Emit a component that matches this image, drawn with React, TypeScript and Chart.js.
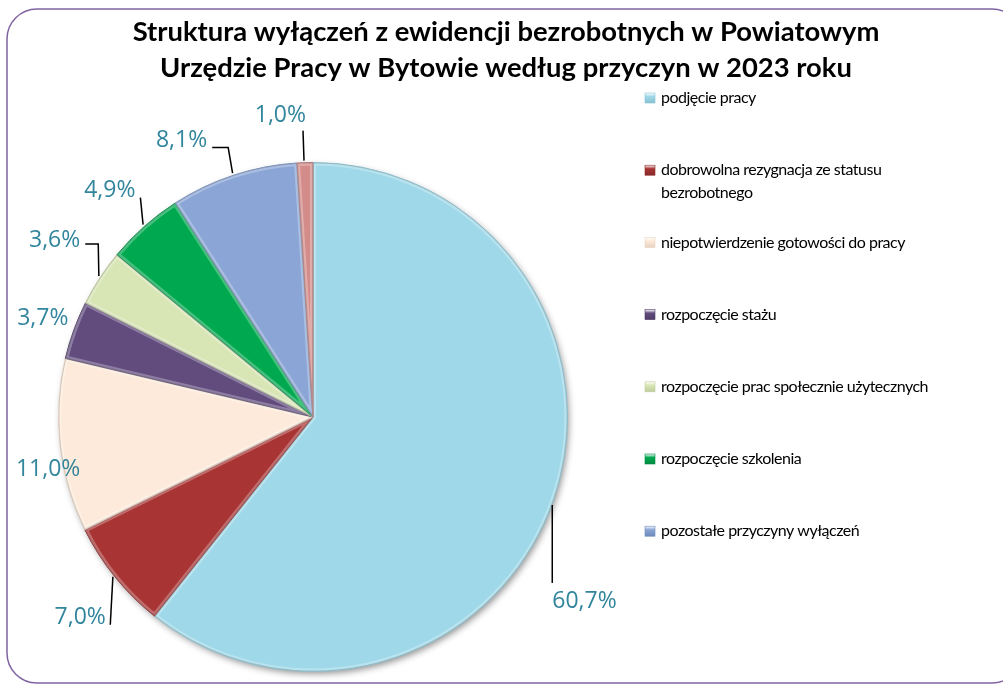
import React, { useEffect, useRef } from 'react';
import { Chart, registerables } from 'chart.js';

Chart.register(...registerables);

const titleLines = [
  'Struktura wyłączeń z ewidencji bezrobotnych w Powiatowym',
  'Urzędzie Pracy w Bytowie według przyczyn w 2023 roku',
];

const categories = [
  'podjęcie pracy',
  'dobrowolna rezygnacja ze statusu bezrobotnego',
  'niepotwierdzenie gotowości do pracy',
  'rozpoczęcie stażu',
  'rozpoczęcie prac społecznie użytecznych',
  'rozpoczęcie szkolenia',
  'pozostałe przyczyny wyłączeń',
  'inne',
];

const values = [60.7, 7.0, 11.0, 3.7, 3.6, 4.9, 8.1, 1.0];

const legendLines = [
  ['podjęcie pracy'],
  ['dobrowolna rezygnacja ze statusu', 'bezrobotnego'],
  ['niepotwierdzenie gotowości do pracy'],
  ['rozpoczęcie stażu'],
  ['rozpoczęcie prac społecznie użytecznych'],
  ['rozpoczęcie szkolenia'],
  ['pozostałe przyczyny wyłączeń'],
];

const colors = ['#9FD9E9', '#A83434', '#FDEADA', '#624C7E', '#D8E5B5', '#00A94F', '#8AA5D6', '#D48C8A'];
const borderColors = ['#86C2D3', '#8A2A2A', '#E8D2C0', '#4F3C68', '#BFCC9C', '#008A40', '#6F8BBD', '#B87472'];

// label placement relative to the slice's outer mid-point: leader path and text anchor
const labelLayout = [
  { path: [[-1, 4], [-1, 82]], text: [-1, 101], align: 'left' },
  { path: [[-2, 0], [-4.6, 48]], text: [-9, 41], align: 'right' },
  { path: [], text: [-12, 24], align: 'center' },
  { path: [], text: [-31, -12], align: 'center' },
  { path: [[-1, -2], [-1.6, -34], [-14.6, -34]], text: [-19.6, -37], align: 'right' },
  { path: [[-1, -2], [-3.7, -29]], text: [-8.7, -36], align: 'right' },
  { path: [[-1, -2], [-5.4, -27.7], [-21.4, -27.7]], text: [-26.4, -34.7], align: 'right' },
  { path: [[-1, -2], [-2, -32]], text: [1, -47], align: 'right' },
];

const framePlugin = {
  id: 'frame',
  beforeDraw(chart: any) {
    const ctx = chart.ctx;
    ctx.save();
    ctx.fillStyle = '#ffffff';
    ctx.fillRect(0, 0, chart.width, chart.height);
    ctx.strokeStyle = '#8064A2';
    ctx.lineWidth = 1.5;
    ctx.beginPath();
    ctx.roundRect(7, 9, 1015, 674, 30);
    ctx.stroke();
    ctx.restore();
  },
};

const shadowPlugin = {
  id: 'pieShadow',
  beforeDatasetsDraw(chart: any) {
    const meta = chart.getDatasetMeta(0);
    const el = meta.data[0];
    if (!el) return;
    const { x, y, outerRadius } = el.getProps(['x', 'y', 'outerRadius'], true);
    const ctx = chart.ctx;
    ctx.save();
    ctx.shadowColor = 'rgba(0,0,0,0.45)';
    ctx.shadowBlur = 7;
    ctx.shadowOffsetX = 2;
    ctx.shadowOffsetY = 3;
    ctx.fillStyle = '#9FD9E9';
    ctx.beginPath();
    ctx.arc(x, y, outerRadius - 1, 0, Math.PI * 2);
    ctx.fill();
    ctx.restore();
  },
  afterDatasetsDraw(chart: any) {
    // soft bevel: light inner rim on each slice
    const meta = chart.getDatasetMeta(0);
    const ctx = chart.ctx;
    meta.data.forEach((el: any) => {
      const { x, y, startAngle, endAngle, outerRadius } = el.getProps(
        ['x', 'y', 'startAngle', 'endAngle', 'outerRadius'],
        true
      );
      ctx.save();
      ctx.beginPath();
      ctx.moveTo(x, y);
      ctx.arc(x, y, outerRadius, startAngle, endAngle);
      ctx.closePath();
      ctx.clip();
      ctx.strokeStyle = 'rgba(255,255,255,0.28)';
      ctx.lineWidth = 6;
      ctx.stroke();
      ctx.strokeStyle = 'rgba(0,0,0,0.12)';
      ctx.lineWidth = 2;
      ctx.stroke();
      ctx.restore();
    });
  },
};

const labelPlugin = {
  id: 'pctLabels',
  afterDraw(chart: any) {
    const meta = chart.getDatasetMeta(0);
    const ctx = chart.ctx;
    const data = chart.data.datasets[0].data as number[];
    ctx.save();
    meta.data.forEach((el: any, i: number) => {
      const { x, y, startAngle, endAngle, outerRadius } = el.getProps(
        ['x', 'y', 'startAngle', 'endAngle', 'outerRadius'],
        true
      );
      const mid = (startAngle + endAngle) / 2;
      const ax = x + Math.cos(mid) * outerRadius;
      const ay = y + Math.sin(mid) * outerRadius;
      const lay = labelLayout[i];
      if (lay.path.length > 1) {
        ctx.strokeStyle = '#000000';
        ctx.lineWidth = 1.5;
        ctx.beginPath();
        lay.path.forEach((p: number[], k: number) => {
          if (k === 0) ctx.moveTo(ax + p[0], ay + p[1]);
          else ctx.lineTo(ax + p[0], ay + p[1]);
        });
        ctx.stroke();
      }
      ctx.fillStyle = '#31859C';
      ctx.font = '23px "Open Sans"';
      ctx.textAlign = lay.align as CanvasTextAlign;
      ctx.textBaseline = 'middle';
      const txt = data[i].toFixed(1).replace('.', ',') + '%';
      ctx.fillText(txt, ax + lay.text[0], ay + lay.text[1]);
    });
    ctx.restore();
  },
};

const legendPlugin = {
  id: 'sideLegend',
  afterDraw(chart: any) {
    const ctx = chart.ctx;
    ctx.save();
    legendLines.forEach((lines, i) => {
      const cy = 98 + i * 72.2;
      const g = ctx.createLinearGradient(645, cy - 5, 645, cy + 5);
      g.addColorStop(0, '#ffffff');
      g.addColorStop(0.35, colors[i]);
      g.addColorStop(1, borderColors[i]);
      ctx.fillStyle = g;
      ctx.fillRect(645, cy - 5, 10, 10);
      ctx.strokeStyle = borderColors[i];
      ctx.lineWidth = 0.6;
      ctx.strokeRect(645, cy - 5, 10, 10);
      ctx.fillStyle = '#000000';
      ctx.font = '16px Lato';
      (ctx as any).letterSpacing = '-0.5px';
      ctx.textAlign = 'left';
      ctx.textBaseline = 'middle';
      lines.forEach((ln, k) => ctx.fillText(ln, 661, cy + k * 23));
    });
    ctx.restore();
  },
};

const titlePlugin = {
  id: 'bigTitle',
  afterDraw(chart: any) {
    const ctx = chart.ctx;
    ctx.save();
    ctx.fillStyle = '#000000';
    ctx.font = 'bold 27.4px Lato';
    ctx.textAlign = 'center';
    ctx.textBaseline = 'middle';
    titleLines.forEach((t, i) => ctx.fillText(t, 506, 32 + i * 36));
    ctx.restore();
  },
};

export default function App() {
  const ref = useRef<HTMLCanvasElement>(null);
  useEffect(() => {
    document.body.style.margin = '0';
    const canvas = ref.current!;
    const chart = new Chart(canvas, {
      type: 'pie',
      data: {
        labels: categories,
        datasets: [
          {
            data: values,
            backgroundColor: colors,
            borderColor: borderColors,
            borderWidth: 1,
          },
        ],
      },
      options: {
        responsive: false,
        animation: false,
        layout: { padding: { left: 58, right: 435, top: 162, bottom: 12 } },
        plugins: {
          legend: { display: false },
          title: { display: false },
          tooltip: { enabled: false },
        },
      },
      plugins: [framePlugin, shadowPlugin, labelPlugin, legendPlugin, titlePlugin],
    });
    return () => chart.destroy();
  }, []);
  return <canvas ref={ref} width={1003} height={684} style={{ display: 'block' }} />;
}
